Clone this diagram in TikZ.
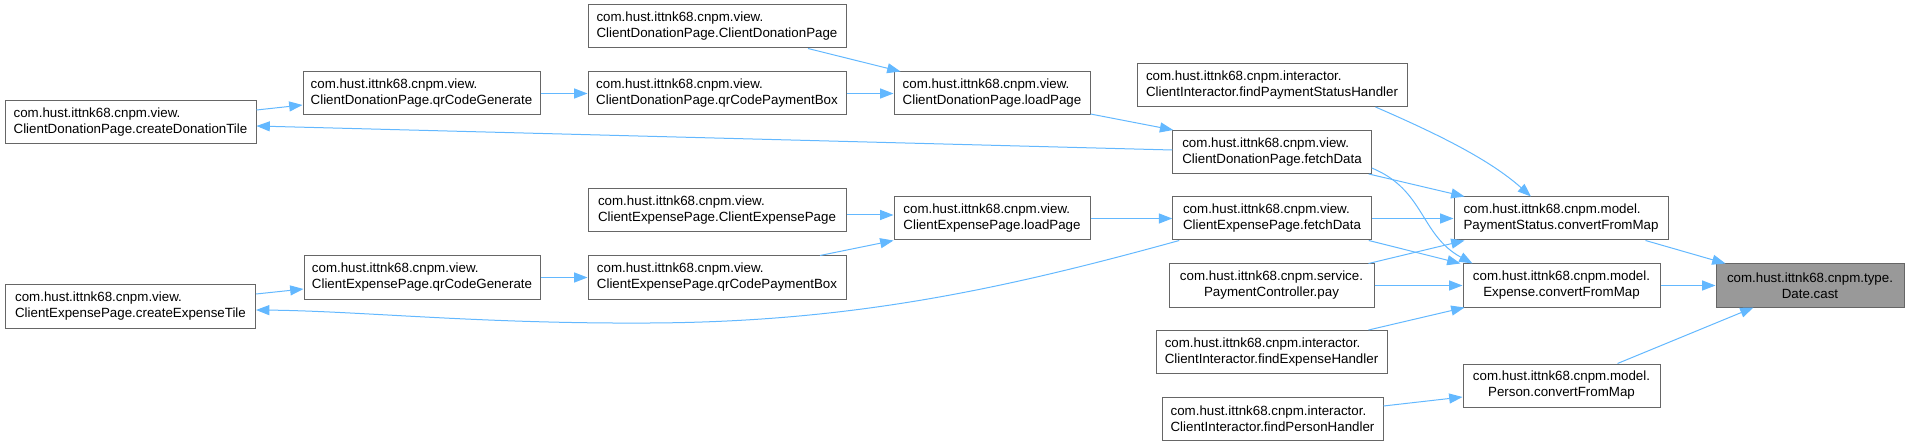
\documentclass[tikz,border=0pt]{standalone}
\usepackage{fontspec}
\setmainfont{Liberation Sans}
\usetikzlibrary{calc,arrows.meta}
\definecolor{edgec}{HTML}{63B8FF}
\definecolor{boxc}{HTML}{666666}
\definecolor{fillc}{HTML}{999999}
\begin{document}
\begin{tikzpicture}[x=0.75pt,y=-0.75pt,
  box/.style={draw=boxc, line width=0.75pt, fill=white, minimum height=32.25pt,
    inner sep=0pt, align=left, font=\fontsize{10pt}{12pt}\selectfont},
  cbox/.style={box, align=center},
  hbox/.style={cbox, fill=fillc},
  edge/.style={draw=edgec, line width=0.75pt, -{Triangle[length=10pt,width=7.5pt]}}]
\useasboundingbox (0,0) rectangle (1909,445);

\node[box, minimum width=188.25pt] (cdt) at (130.5,122.5) {com.hust.ittnk68.cnpm.view.\\ClientDonationPage.createDonationTile};
\node[box, minimum width=187.5pt] (cet) at (130.5,306.5) {com.hust.ittnk68.cnpm.view.\\ClientExpensePage.createExpenseTile};
\node[box, minimum width=177.75pt] (dqg) at (421.5,93.5) {com.hust.ittnk68.cnpm.view.\\ClientDonationPage.qrCodeGenerate};
\node[box, minimum width=177pt] (eqg) at (422,277.5) {com.hust.ittnk68.cnpm.view.\\ClientExpensePage.qrCodeGenerate};
\node[box, minimum width=193.5pt] (dcp) at (717,26.5) {com.hust.ittnk68.cnpm.view.\\ClientDonationPage.ClientDonationPage};
\node[box, minimum width=193.5pt] (dqp) at (717,93.5) {com.hust.ittnk68.cnpm.view.\\ClientDonationPage.qrCodePaymentBox};
\node[box, minimum width=193.5pt] (ecp) at (717,210.5) {com.hust.ittnk68.cnpm.view.\\ClientExpensePage.ClientExpensePage};
\node[box, minimum width=193.5pt] (eqp) at (717,277.5) {com.hust.ittnk68.cnpm.view.\\ClientExpensePage.qrCodePaymentBox};
\node[box, minimum width=147pt] (dlp) at (992,93.5) {com.hust.ittnk68.cnpm.view.\\ClientDonationPage.loadPage};
\node[box, minimum width=147pt] (elp) at (992,218.5) {com.hust.ittnk68.cnpm.view.\\ClientExpensePage.loadPage};
\node[box, minimum width=202.5pt] (fps) at (1272,85) {com.hust.ittnk68.cnpm.interactor.\\ClientInteractor.findPaymentStatusHandler};
\node[box, minimum width=148.9pt] (dfd) at (1272,152) {com.hust.ittnk68.cnpm.view.\\ClientDonationPage.fetchData};
\node[box, minimum width=148.9pt] (efd) at (1272,218.5) {com.hust.ittnk68.cnpm.view.\\ClientExpensePage.fetchData};
\node[cbox, minimum width=153.75pt] (pay) at (1271.5,285.5) {com.hust.ittnk68.cnpm.service.\\PaymentController.pay};
\node[box, minimum width=173.25pt] (feh) at (1271.5,352) {com.hust.ittnk68.cnpm.interactor.\\ClientInteractor.findExpenseHandler};
\node[box, minimum width=165.75pt] (fph) at (1272.5,418.5) {com.hust.ittnk68.cnpm.interactor.\\ClientInteractor.findPersonHandler};
\node[box, minimum width=160.5pt] (ps) at (1561,218.5) {com.hust.ittnk68.cnpm.model.\\PaymentStatus.convertFromMap};
\node[cbox, minimum width=147.75pt] (ex) at (1561.5,285.5) {com.hust.ittnk68.cnpm.model.\\Expense.convertFromMap};
\node[cbox, minimum width=147.75pt] (pn) at (1561.5,385.5) {com.hust.ittnk68.cnpm.model.\\Person.convertFromMap};
\node[hbox, minimum width=141pt] (dc) at (1810,285.5) {com.hust.ittnk68.cnpm.type.\\Date.cast};

\draw[edge] ($(cdt.east)+(0,-12.5)$) -- ($(dqg.west)+(0,11.5)$);
\draw[edge] (dqg.east) -- (dqp.west);
\draw[edge] (dqp.east) -- (dlp.west);
\draw[edge] ($(dcp.south)+(91,0)$) -- ($(dlp.north west)+(7,0)$);
\draw[edge] ($(dlp.east)+(0,20.5)$) -- ($(dfd.north west)+(1,0)$);
\draw[edge] ($(dfd.west)+(0,-2)$) -- ($(cdt.east)+(0,3.5)$);
\draw[edge] ($(cet.east)+(0,-12.5)$) -- ($(eqg.west)+(0,11.5)$);
\draw[edge] (eqg.east) -- (eqp.west);
\draw[edge] ($(ecp.east)+(0,4.5)$) -- ($(elp.west)+(0,-3.5)$);
\draw[edge] ($(eqp.north)+(103,0)$) -- ($(elp.south west)+(0,0)$);
\draw[edge] (elp.east) -- (efd.west);
\draw[edge] ($(efd.south west)+(7,0)$) .. controls (1000,290) and (850,322) .. (650,323)
   .. controls (480,324) and (360,311) .. ($(cet.east)+(0,3.5)$);
\draw[edge] ($(fps.south east)+(-32,0)$) .. controls (1440,135) and (1490,160) .. ($(ps.north)+(-30,0)$);
\draw[edge] ($(dfd.south east)+(-3,0)$) -- ($(ps.north west)+(11,0)$);
\draw[edge] ($(dfd.east)+(0,16)$) .. controls (1425,190) and (1420,235) .. ($(ex.north west)+(10,0)$);
\draw[edge] (efd.east) -- (ps.west);
\draw[edge] ($(efd.south east)+(-3,0)$) -- ($(ex.north west)+(-2,0)$);
\draw[edge] ($(pay.north east)+(-6,0)$) -- ($(ps.south west)+(11,0)$);
\draw[edge] (pay.east) -- (ex.west);
\draw[edge] ($(feh.north east)+(-19,0)$) -- ($(ex.south west)+(2,0)$);
\draw[edge] ($(fph.east)+(0,-12.5)$) -- ($(pn.west)+(0,11.5)$);
\draw[edge] ($(ps.south east)+(-23,0)$) -- ($(dc.north west)+(10,0)$);
\draw[edge] (ex.east) -- (dc.west);
\draw[edge] ($(pn.north east)+(-43,0)$) -- ($(dc.south west)+(38,0)$);
\end{tikzpicture}
\end{document}
